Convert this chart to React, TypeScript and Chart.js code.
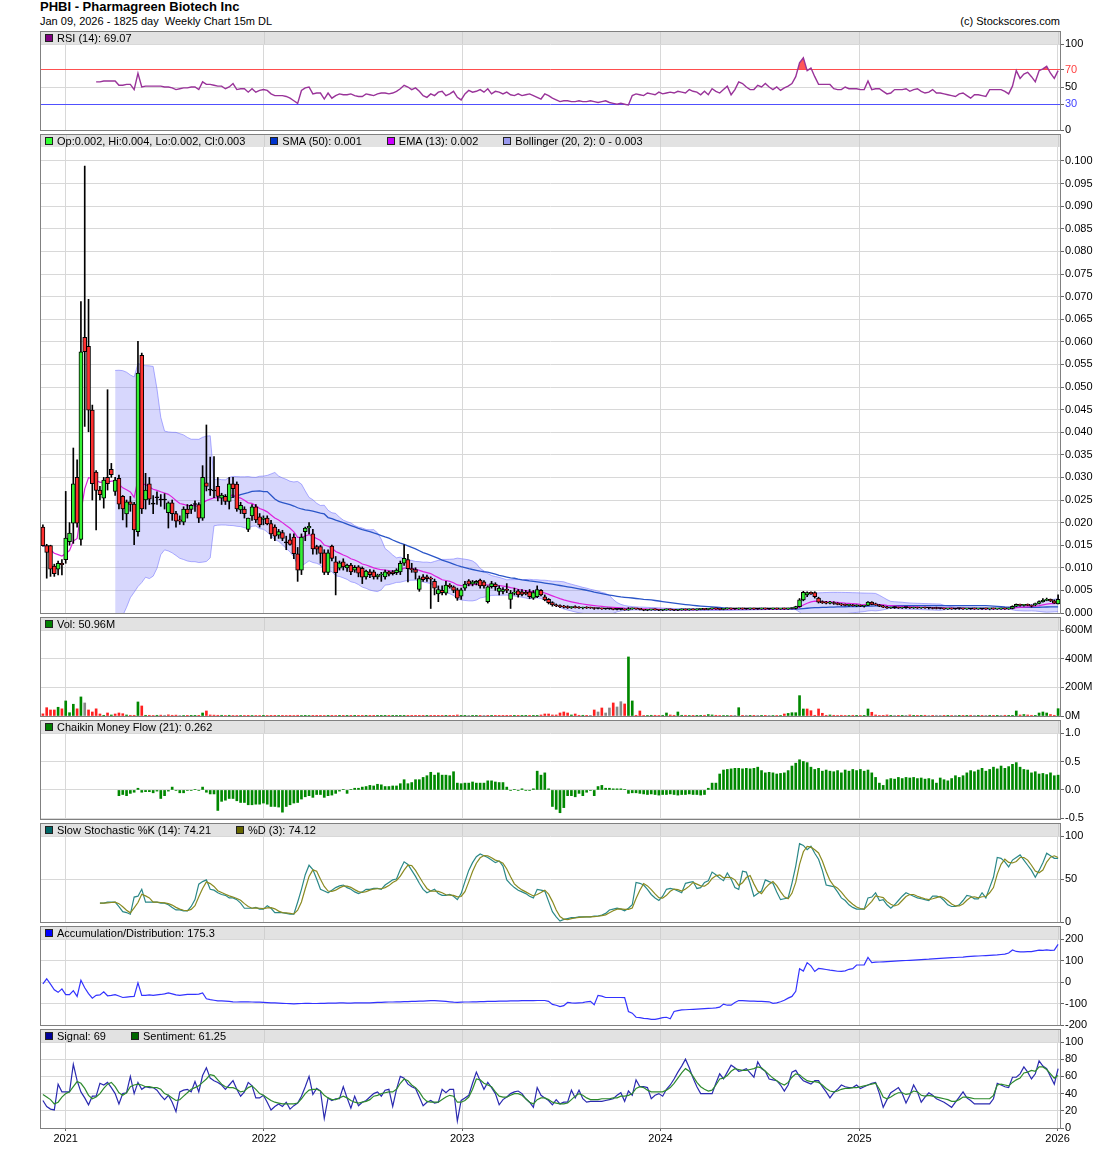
import React, { useEffect, useRef } from "react";
import { Chart, registerables } from "chart.js";

Chart.register(...registerables);

const FONT = "'Liberation Sans', Arial, Helvetica, sans-serif";
Chart.defaults.font.family = FONT;
Chart.defaults.font.size = 11;
Chart.defaults.color = "#000";

// ---------------- data (weekly bars, oldest first) ----------------
const PRICE_UNIT = 0.0001; // price arrays are in 1/10000 dollars

const OPEN = [
  190,149,149,104,97,110,118,158,199,300,
  163,610,590,449,312,272,254,300,318,269,
  298,258,219,246,241,180,570,250,286,241,
  255,250,250,222,244,220,206,201,230,229,
  240,240,210,288,272,270,280,254,258,247,
  286,285,228,230,185,215,235,213,207,210,
  198,190,172,178,155,162,168,131,95,180,
  188,175,147,147,133,90,148,113,99,113,
  100,106,95,102,99,80,91,91,80,84,
  80,91,91,89,91,110,118,98,96,52,
  80,80,76,70,42,50,44,62,58,51,
  37,55,71,64,66,73,69,25,58,64,
  48,48,52,30,44,49,47,46,47,33,
  36,50,36,30,23,18,16,14,13,12,
  13,12,11,12,12,11,10,10,9,9,
  9,8,8,8,7,9,10,9,7,6,
  7,8,7,6,7,8,7,6,7,8,
  7,8,7,8,9,8,9,10,9,8,
  9,10,9,9,10,9,9,10,9,9,
  10,9,9,10,9,10,9,10,10,14,
  29,40,46,45,33,24,23,22,23,21,
  19,18,17,18,16,17,15,17,24,19,
  18,15,13,11,12,12,11,12,12,11,
  12,11,12,11,11,12,10,10,9,10,
  9,10,10,9,9,10,9,9,10,9,
  10,9,9,10,9,10,15,19,17,18,
  17,18,21,25,28,30,27,20,
];
const HIGH = [
  195,152,150,108,115,118,269,200,365,339,
  689,989,694,460,315,280,300,494,331,300,
  305,260,250,258,245,601,575,309,300,260,
  268,262,264,246,250,225,215,235,240,240,
  248,244,326,416,345,346,300,265,262,300,
  300,290,245,235,210,240,240,220,215,215,
  205,195,185,183,170,175,175,145,175,190,
  200,185,150,150,140,140,150,125,115,120,
  108,110,105,105,102,95,96,95,86,90,
  95,93,94,98,115,151,130,110,100,82,
  85,84,80,75,60,60,70,65,60,55,
  55,70,74,72,72,75,72,60,70,67,
  60,56,65,50,55,52,52,50,52,50,
  60,52,40,32,25,20,18,17,16,14,
  16,14,13,14,13,12,11,11,10,10,
  9,9,9,9,12,11,10,9,8,8,
  8,9,8,8,9,9,8,8,9,9,
  9,9,9,10,10,10,11,11,10,10,
  11,11,10,11,11,10,11,11,10,11,
  11,10,11,11,10,11,11,12,15,32,
  48,47,47,47,35,27,26,26,25,23,
  21,20,19,19,18,18,17,25,25,22,
  19,17,15,13,14,13,13,13,13,13,
  13,12,13,12,12,13,11,11,10,11,
  10,11,11,10,10,11,10,10,11,10,
  11,10,11,11,11,16,20,20,19,20,
  18,22,27,32,33,31,29,40,
];
const LOW = [
  148,77,81,81,84,84,110,150,154,190,
  150,413,401,250,184,250,232,272,300,260,
  230,206,190,225,151,170,220,230,240,220,
  240,236,230,188,205,190,196,195,210,220,
  225,200,205,270,260,255,248,240,240,230,
  255,225,220,210,180,205,200,190,195,195,
  165,160,165,160,140,150,120,70,85,160,
  175,130,130,110,85,85,115,40,95,95,
  92,85,90,80,65,75,78,75,75,70,
  75,82,84,85,85,105,69,90,75,48,
  70,70,10,40,25,40,40,55,45,28,
  30,50,60,60,62,55,55,22,55,50,
  40,42,45,10,40,35,38,40,32,30,
  34,38,27,20,15,14,12,11,10,10,
  11,10,9,10,10,8,9,8,8,8,
  7,7,7,6,6,8,8,7,5,5,
  6,6,5,5,6,6,5,5,6,6,
  6,7,6,7,7,7,8,8,7,7,
  8,8,8,8,8,8,8,8,8,8,
  8,8,8,8,8,8,8,9,9,13,
  27,36,41,33,22,21,20,20,19,18,
  16,16,15,15,14,14,13,16,18,17,
  14,12,10,10,10,10,10,10,10,10,
  10,10,10,9,9,9,9,8,8,8,
  8,8,8,8,8,8,8,8,8,7,
  8,8,8,8,8,9,14,15,15,16,
  13,16,20,24,27,25,21,20,
];
const CLOSE = [
  149,134,97,87,110,107,166,177,286,199,
  578,578,449,286,271,262,294,286,306,294,
  241,230,246,240,184,531,230,272,252,241,
  255,250,250,244,220,203,203,230,220,238,
  240,210,300,280,272,270,258,261,247,286,
  275,230,238,220,210,235,206,195,210,197,
  175,170,180,165,155,152,131,95,168,188,
  192,142,141,132,90,133,121,89,111,102,
  106,91,101,88,79,93,85,80,84,85,
  91,86,87,95,110,121,98,96,90,76,
  74,76,75,55,52,45,62,58,50,33,
  51,64,64,69,70,60,60,58,65,58,
  55,52,50,44,46,40,41,42,36,45,
  52,40,29,23,18,16,14,13,12,13,
  12,11,12,11,11,10,10,9,9,9,
  8,8,8,7,9,10,9,8,6,7,
  8,7,6,7,8,7,6,7,8,7,
  8,7,8,9,8,9,10,9,8,9,
  10,9,9,10,9,9,10,9,9,10,
  9,9,10,9,10,9,10,11,14,29,
  46,45,42,36,24,23,22,23,21,19,
  18,17,18,16,17,15,16,24,19,18,
  15,13,11,12,12,11,12,12,11,12,
  11,12,11,11,10,10,10,9,10,9,
  9,10,9,10,9,9,10,9,9,10,
  9,10,10,9,10,15,19,17,18,17,
  15,21,25,28,30,27,22,30,
];
// volume in millions of shares
const VOLUME_M = [
  15,58,42,42,61,50,105,23,82,50,
  133,91,42,28,50,14,5,21,7,14,
  21,16,7,5,5,98,70,5,5,4,
  5,6,5,8,5,6,4,3,2,2,
  1,2,21,35,7,6,5,5,4,5,
  4,3,3,4,2,3,3,3,2,3,
  2,2,3,2,3,2,4,5,3,2,
  3,2,1,2,3,1,2,4,1,1,
  1,2,1,1,1,1,2,1,1,1,
  1,1,1,1,2,2,1,1,1,1,
  1,1,2,1,1,1,1,1,1,7,
  1,1,1,1,1,1,1,1,1,1,
  1,1,1,1,1,1,1,1,1,1,
  1,7,14,14,7,7,21,28,21,7,
  14,5,5,2,1,42,28,56,21,56,
  91,63,100,84,412,105,5,35,3,3,
  5,5,3,5,21,7,5,28,5,5,
  4,2,1,1,5,10,7,5,3,4,
  3,3,2,58,2,5,1,2,1,2,
  1,2,4,4,3,14,18,23,23,142,
  49,49,37,5,49,19,5,7,5,3,
  5,4,3,5,2,3,2,49,26,7,
  4,2,7,2,4,1,1,1,7,1,
  1,1,5,4,2,5,1,1,1,3,
  1,1,1,1,5,1,1,1,1,5,
  1,1,1,5,2,2,35,7,10,7,
  5,2,21,28,21,10,5,51,
];
const RSI_14 = [
  ...Array(14).fill(null),
  56,56,57,57,57,57,52,52,53,53,
  47,66,50,51,51,51,51,51,50,50,
  49,47,48,49,49,50,50,47,56,53,
  53,52,51,51,48,50,54,47,48,48,
  44,48,44,46,47,46,42,40,40,40,
  39,37,34,31,46,49,50,42,43,43,
  36,43,37,40,42,41,41,42,40,39,
  39,42,41,40,42,43,43,42,43,45,
  48,52,50,47,49,45,40,38,42,40,
  44,45,40,42,45,38,35,42,46,44,
  45,47,44,48,42,45,44,42,44,41,
  40,42,40,41,42,40,38,36,42,40,
  37,35,33,34,34,33,33,34,33,33,
  34,33,32,33,34,32,31,30,31,30,
  29,40,42,41,40,43,42,41,44,42,
  43,44,43,45,44,43,47,45,44,41,
  45,41,48,45,43,47,51,41,47,56,
  54,50,47,47,52,50,54,50,47,50,
  46,49,51,54,62,78,84,69,72,62,
  53,53,53,53,48,47,47,50,48,48,
  48,47,47,57,47,48,48,45,42,43,
  47,47,47,48,45,47,48,45,43,44,
  47,43,43,42,41,40,39,42,43,40,
  37,41,41,40,39,47,47,47,47,45,
  42,51,69,60,65,67,62,56,69,71,
  74,66,60,69,
];
const CMF_21 = [
  ...Array(20).fill(null),
  -0.10,-0.08,-0.10,-0.06,-0.04,0.03,-0.04,-0.03,-0.03,-0.05,
  -0.02,-0.15,-0.10,-0.02,0.05,-0.01,-0.05,-0.05,-0.01,-0.01,
  0.01,-0.01,0.05,-0.04,-0.07,-0.07,-0.36,-0.20,-0.18,-0.15,
  -0.15,-0.19,-0.22,-0.22,-0.26,-0.26,-0.25,-0.25,-0.23,-0.25,
  -0.29,-0.29,-0.30,-0.39,-0.29,-0.26,-0.23,-0.22,-0.16,-0.12,
  -0.10,-0.13,-0.08,-0.08,-0.13,-0.10,-0.09,-0.06,-0.02,0.01,
  -0.06,0.01,0.03,0.03,0.05,0.06,0.08,0.07,0.10,0.09,
  0.06,0.06,0.07,0.07,0.11,0.18,0.11,0.13,0.18,0.18,
  0.22,0.25,0.31,0.26,0.30,0.26,0.26,0.25,0.32,0.12,
  0.11,0.12,0.12,0.14,0.12,0.12,0.12,0.16,0.16,0.14,
  0.13,0.13,0.05,-0.01,0.01,-0.01,0.02,-0.01,-0.01,0.02,
  0.33,0.26,0.30,0.02,-0.29,-0.34,-0.40,-0.31,-0.10,-0.10,
  -0.12,-0.06,-0.10,-0.04,-0.01,-0.10,0.06,0.08,0.03,0.03,
  0.02,0.02,0.02,0.01,-0.06,-0.05,-0.05,-0.06,-0.07,-0.08,
  -0.07,-0.08,-0.09,-0.08,-0.08,-0.07,-0.08,-0.09,-0.08,-0.08,
  -0.07,-0.08,-0.08,-0.09,-0.08,0.03,0.12,0.12,0.28,0.35,
  0.36,0.37,0.38,0.38,0.37,0.38,0.37,0.38,0.40,0.34,
  0.30,0.31,0.30,0.28,0.29,0.30,0.34,0.42,0.47,0.53,
  0.50,0.48,0.40,0.36,0.38,0.33,0.35,0.33,0.32,0.34,
  0.30,0.35,0.33,0.36,0.34,0.36,0.33,0.35,0.30,0.22,
  0.12,0.08,0.18,0.20,0.19,0.22,0.20,0.22,0.21,0.22,
  0.20,0.21,0.19,0.20,0.18,0.12,0.21,0.18,0.16,0.20,
  0.25,0.22,0.25,0.30,0.34,0.32,0.35,0.38,0.33,0.36,
  0.40,0.37,0.42,0.38,0.41,0.45,0.48,0.40,0.36,0.35,
  0.30,0.32,0.28,0.29,0.27,0.30,0.25,0.26,
];
const STOCH_K = [
  ...Array(15).fill(null),
  22,22,23,23,23,18,12,11,9,29,
  30,38,23,23,23,23,22,22,20,17,
  14,14,13,13,18,26,44,47,49,38,
  37,34,32,31,28,28,26,22,16,16,
  16,17,15,15,19,16,11,11,11,10,
  9,9,23,38,55,66,61,50,38,36,
  34,37,40,42,43,40,38,35,33,35,
  38,38,39,39,38,43,46,49,50,61,
  70,67,60,53,45,38,34,36,38,33,
  31,31,32,30,26,33,47,60,69,76,
  79,77,75,72,69,71,65,49,44,40,
  37,35,33,30,28,38,37,36,24,12,
  6,1,3,4,5,5,6,6,6,6,
  7,7,8,10,14,15,16,15,13,16,
  20,46,45,43,38,32,28,25,30,38,
  39,38,36,34,45,46,47,39,40,46,
  48,58,55,51,48,57,50,40,38,59,
  58,45,30,33,36,49,47,45,35,26,
  27,28,45,65,91,89,84,88,80,73,
  60,43,42,41,35,28,25,20,17,15,
  15,15,28,29,34,25,26,20,16,20,
  25,30,34,32,30,28,27,26,25,30,
  30,29,25,20,18,18,20,25,31,30,
  27,27,34,28,40,52,75,74,70,64,
  72,75,78,72,66,60,52,60,69,80,
  77,74,74,
];
const ACC_DIST = [
  -9,15,-10,-36,-48,-32,-59,-59,-40,-67,
  8,-27,-54,-75,-62,-60,-46,-64,-62,-59,
  -65,-72,-70,-68,-67,-4,-62,-62,-60,-62,
  -60,-58,-55,-51,-55,-60,-62,-60,-58,-57,
  -58,-56,-51,-78,-82,-85,-88,-88,-89,-90,
  -92,-93,-92,-92,-92,-93,-94,-94,-95,-96,
  -97,-97,-98,-99,-100,-101,-102,-101,-100,-99,
  -99,-100,-100,-99,-99,-98,-98,-98,-97,-97,
  -98,-98,-97,-97,-97,-97,-97,-96,-95,-95,
  -94,-93,-93,-92,-92,-91,-91,-90,-90,-89,
  -89,-88,-87,-87,-88,-89,-90,-92,-94,-95,
  -94,-93,-93,-92,-92,-91,-91,-90,-90,-90,
  -89,-89,-89,-88,-88,-88,-87,-87,-87,-87,
  -86,-86,-86,-90,-104,-108,-114,-110,-95,-97,
  -98,-97,-96,-92,-90,-106,-62,-66,-72,-72,
  -72,-72,-72,-73,-137,-145,-164,-166,-169,-170,
  -174,-174,-170,-166,-164,-171,-137,-133,-130,-129,
  -128,-127,-126,-125,-124,-123,-122,-120,-117,-103,
  -108,-108,-95,-86,-87,-88,-89,-89,-90,-90,
  -91,-92,-99,-97,-92,-85,-75,-67,-43,62,
  51,90,75,49,63,61,58,55,53,50,
  49,52,59,62,79,79,80,114,90,92,
  93,94,95,96,97,98,99,100,101,102,
  103,104,105,106,108,109,110,111,112,113,
  114,115,116,118,119,120,121,122,123,124,
  125,126,128,130,135,149,142,140,140,141,
  141,145,148,147,149,147,148,175,
];
const SIGNAL = [
  32,25,22,21,51,42,42,42,74,55,
  42,35,27,37,37,52,50,53,47,40,
  28,40,41,60,40,53,45,48,47,47,
  44,38,33,38,30,19,42,44,45,42,
  54,42,61,70,58,55,53,50,45,50,
  55,45,37,42,53,49,35,35,38,30,
  21,25,28,25,30,22,26,29,37,48,
  60,39,46,43,11,35,32,34,34,48,
  35,23,37,26,30,32,36,40,42,37,
  44,45,25,45,60,58,51,48,46,36,
  26,30,32,29,30,45,41,45,45,8,
  32,35,38,52,65,55,45,53,47,40,
  27,33,36,40,42,43,40,34,30,24,
  47,38,35,32,27,33,28,30,30,44,
  35,44,34,30,31,31,31,31,32,33,
  34,38,41,31,43,38,56,48,48,47,
  34,38,40,37,45,50,57,65,72,80,
  70,58,48,40,40,40,40,52,63,57,
  65,73,70,66,67,69,64,59,77,69,
  66,57,56,55,50,43,50,65,67,60,
  55,53,51,55,55,48,42,35,41,45,
  50,48,47,47,50,46,48,50,52,53,
  40,24,33,41,44,47,40,29,38,50,
  42,30,36,41,38,34,32,30,27,24,
  30,36,42,35,32,28,28,28,28,28,
  34,52,50,48,47,59,59,63,71,65,
  57,63,78,72,69,60,51,69,
];
const SENTIMENT = [
  39,36,33,28,30,36,40,42,48,54,
  52,46,38,34,36,40,46,51,53,48,
  41,38,41,48,50,51,50,48,48,47,
  47,45,40,38,35,32,33,37,41,45,
  47,49,53,57,62,61,56,51,48,47,
  47,45,42,43,47,49,45,40,38,35,
  32,30,29,28,28,28,28,29,34,40,
  44,45,45,43,38,35,33,33,35,37,
  35,32,30,29,30,31,33,37,38,40,
  41,42,42,45,52,57,55,50,47,42,
  35,31,30,30,30,33,36,38,37,30,
  30,32,36,45,57,56,52,50,48,42,
  37,36,36,38,40,40,38,34,30,28,
  33,35,35,33,30,29,28,28,29,33,
  37,40,38,35,33,33,33,34,34,34,
  35,35,37,37,38,40,46,48,47,44,
  42,42,42,42,44,47,52,58,64,69,
  66,60,53,48,45,43,44,50,57,58,
  61,66,69,68,67,67,68,69,71,70,
  66,62,58,55,52,50,53,59,63,62,
  58,55,54,54,53,50,46,43,42,43,
  45,46,46,47,47,48,49,50,51,52,
  45,36,34,36,39,41,41,39,40,43,
  42,38,37,38,37,36,35,34,33,31,
  31,33,36,36,35,34,34,34,34,34,
  38,50,51,50,49,53,56,58,64,65,
  67,66,71,71,68,63,58,61,
];

const YEARS = [2021, 2022, 2023, 2024, 2025, 2026];
// calendar date that the last bar's slot on the x axis stands for
const AXIS_END_UTC = Date.UTC(2026, 0, 2);

// ---------------- derived series ----------------
const N = CLOSE.length;
const WEEK_MS = 7 * 86400000;
const YEAR_POS = YEARS.map((y) => N - 1 - (AXIS_END_UTC - Date.UTC(y, 0, 1)) / WEEK_MS);

const closeP = CLOSE.map((v) => v * PRICE_UNIT);
function smaOf(arr: number[], n: number) {
  return arr.map((_, i) => {
    if (i < n - 1) return null;
    let s = 0;
    for (let k = i - n + 1; k <= i; k++) s += arr[k];
    return s / n;
  });
}
function emaOf(arr: number[], n: number) {
  const k = 2 / (n + 1);
  let e = arr[0];
  return arr.map((v, i) => (i === 0 ? e : (e = v * k + e * (1 - k))));
}
const SMA50 = smaOf(closeP, 50);
const EMA13 = emaOf(closeP, 13);
const BB_MID = smaOf(closeP, 20);
const BB_SD = closeP.map((_, i) => {
  if (i < 19) return null;
  const m = BB_MID[i] as number;
  let s = 0;
  for (let k = i - 19; k <= i; k++) s += (closeP[k] - m) ** 2;
  return Math.sqrt(s / 20);
});
const BB_UP = BB_MID.map((m, i) => (m === null ? null : m + 2 * (BB_SD[i] as number)));
const BB_LO = BB_MID.map((m, i) => (m === null ? null : m - 2 * (BB_SD[i] as number)));
const STOCH_D = STOCH_K.map((_, i) => {
  const w = STOCH_K.slice(Math.max(0, i - 2), i + 1).filter((v) => v !== null) as number[];
  return STOCH_K[i] === null || !w.length ? null : w.reduce((a, b) => a + b, 0) / w.length;
});

const pts = (arr: (number | null)[]) => arr.map((y, x) => ({ x, y }));

const GREEN_BODY = "#33f033";
const RED_BODY = "#ff3030";
const VOL_COLORS = CLOSE.map((c, i) => {
  const prev = i === 0 ? OPEN[0] : CLOSE[i - 1];
  return c > prev ? "#008800" : c < prev ? "#ff2020" : "#888888";
});

// ---------------- chart helpers ----------------
const HEADER = 13;
const GRID = "#d8d8d8";

const framePlugin = {
  id: "panelFrame",
  beforeDraw(chart: any) {
    const { ctx, chartArea } = chart;
    const { left, right, top } = chartArea;
    ctx.save();
    ctx.fillStyle = "#e2e2e2";
    ctx.fillRect(left, 0, right - left, top);
    const xs = chart.scales.x;
    ctx.strokeStyle = "#d0d0d0";
    ctx.lineWidth = 1;
    for (const t of xs.ticks) {
      const px = Math.round(xs.getPixelForValue(t.value)) + 0.5;
      ctx.beginPath();
      ctx.moveTo(px, 0);
      ctx.lineTo(px, top);
      ctx.stroke();
    }
    ctx.restore();
  },
  afterDraw(chart: any) {
    const { ctx, chartArea } = chart;
    const { left, right, bottom } = chartArea;
    ctx.save();
    ctx.strokeStyle = "#808080";
    ctx.lineWidth = 1;
    ctx.strokeRect(left - 0.5, 0.5, right - left + 1, bottom);
    ctx.restore();
  },
};

type YOpts = {
  min: number;
  max: number;
  ticks: number[];
  fmt: (v: number) => string;
  showX?: boolean;
  tickColor?: (v: number) => string;
  gridColor?: (v: number) => string;
};

function makeOptions(o: YOpts): any {
  return {
    responsive: false,
    animation: false,
    events: [],
    layout: { padding: { top: HEADER, left: 1, right: 0, bottom: o.showX ? 0 : 9 } },
    plugins: { legend: { display: false }, tooltip: { enabled: false } },
    datasets: { bar: { grouped: false } },
    scales: {
      x: {
        type: "linear",
        min: -0.5,
        max: N - 0.5,
        offset: false,
        afterBuildTicks: (s: any) => {
          s.ticks = YEAR_POS.map((v) => ({ value: v }));
        },
        afterFit: (s: any) => {
          s.height = o.showX ? 25 : 0;
        },
        grid: { color: GRID, offset: false, drawTicks: !!o.showX, tickLength: 3, tickColor: "#666" },
        border: { display: false },
        ticks: {
          display: !!o.showX,
          autoSkip: false,
          maxRotation: 0,
          padding: 1,
          color: "#000",
          font: { size: 11 },
          callback: (_v: any, i: number) => String(YEARS[i]),
        },
      },
      y: {
        type: "linear",
        position: "right",
        min: o.min,
        max: o.max,
        afterBuildTicks: (s: any) => {
          s.ticks = o.ticks.map((v) => ({ value: v }));
        },
        afterFit: (s: any) => {
          s.width = 40;
        },
        grid: {
          color: (c: any) => (o.gridColor ? o.gridColor(c.tick.value) : GRID),
          drawTicks: true,
          tickLength: 4,
          tickColor: "#666",
        },
        border: { display: false },
        ticks: {
          autoSkip: false,
          padding: 1,
          font: { size: 11 },
          color: (c: any) => (o.tickColor ? o.tickColor(c.tick.value) : "#000"),
          callback: (v: any) => o.fmt(Number(v)),
        },
      },
    },
  };
}

const lineDs = (data: (number | null)[], color: string, width = 1.2, extra: any = {}) => ({
  type: "line",
  data: pts(data),
  borderColor: color,
  borderWidth: width,
  pointRadius: 0,
  tension: 0,
  fill: false,
  ...extra,
});

const range = (a: number, b: number, step: number) => {
  const out: number[] = [];
  for (let v = a; v <= b + 1e-9; v += step) out.push(+v.toFixed(4));
  return out;
};

// ---------------- panel configs ----------------
const rsiConfig = () => ({
  type: "line",
  data: {
    datasets: [
      lineDs(RSI_14, "#993399", 1.4, {
        fill: { target: { value: 70 }, above: "rgba(255,70,70,0.9)", below: "rgba(0,0,0,0)" },
      }),
    ],
  },
  options: makeOptions({
    min: 0,
    max: 100,
    ticks: [0, 30, 50, 70, 100],
    fmt: (v) => String(v),
    tickColor: (v) => (v === 70 ? "#ff4040" : v === 30 ? "#4040ff" : "#000"),
    gridColor: (v) => (v === 70 ? "#ff5050" : v === 30 ? "#5050ff" : GRID),
  }),
  plugins: [framePlugin],
});

const priceConfig = () => {
  const wicks = LOW.map((l, i) => ({ x: i, y: [l * PRICE_UNIT, HIGH[i] * PRICE_UNIT] }));
  const bodies = OPEN.map((o, i) => ({
    x: i,
    y: [Math.min(o, CLOSE[i]) * PRICE_UNIT, Math.max(o, CLOSE[i]) * PRICE_UNIT],
  }));
  const bodyColors = OPEN.map((o, i) => (CLOSE[i] > o ? GREEN_BODY : CLOSE[i] < o ? RED_BODY : "#000"));
  return {
    type: "bar",
    data: {
      datasets: [
        lineDs(BB_UP, "rgba(110,110,255,0.55)", 1, { fill: "+1", backgroundColor: "rgba(130,130,250,0.32)", order: 6 }),
        lineDs(BB_LO, "rgba(110,110,255,0.55)", 1, { order: 6 }),
        lineDs(SMA50, "#2a55c8", 1.3, { order: 5 }),
        lineDs(EMA13, "#dd22dd", 1.2, { order: 4 }),
        { type: "bar", data: wicks, backgroundColor: "#000", barThickness: 1, grouped: false, order: 2 },
        {
          type: "bar",
          data: bodies,
          backgroundColor: bodyColors,
          borderColor: "#000",
          borderWidth: 1,
          borderSkipped: false,
          barThickness: 4,
          minBarLength: 1,
          grouped: false,
          order: 1,
        },
      ],
    },
    options: makeOptions({
      min: 0,
      max: 466 / 4520,
      ticks: range(0, 0.1, 0.005),
      fmt: (v) => v.toFixed(3),
    }),
    plugins: [framePlugin],
  };
};

const volConfig = () => ({
  type: "bar",
  data: {
    datasets: [
      { data: pts(VOLUME_M.map((v) => v * 1e6)), backgroundColor: VOL_COLORS, barThickness: 2 },
    ],
  },
  options: makeOptions({
    min: 0,
    max: 600e6,
    ticks: [0, 200e6, 400e6, 600e6],
    fmt: (v) => Math.round(v / 1e6) + "M",
  }),
  plugins: [framePlugin],
});

const cmfConfig = () => ({
  type: "bar",
  data: { datasets: [{ data: pts(CMF_21), backgroundColor: "#008800", barThickness: 2 }] },
  options: makeOptions({
    min: -0.51,
    max: 1.0,
    ticks: [-0.5, 0, 0.5, 1.0],
    fmt: (v) => v.toFixed(1),
  }),
  plugins: [framePlugin],
});

const stochConfig = () => ({
  type: "line",
  data: {
    datasets: [lineDs(STOCH_D, "#8a8a20", 1.2), lineDs(STOCH_K, "#2a8888", 1.2)],
  },
  options: makeOptions({ min: 0, max: 100, ticks: [0, 50, 100], fmt: (v) => String(v) }),
  plugins: [framePlugin],
});

const adConfig = () => ({
  type: "line",
  data: { datasets: [lineDs(ACC_DIST, "#3333ff", 1.2)] },
  options: makeOptions({ min: -200, max: 200, ticks: [-200, -100, 0, 100, 200], fmt: (v) => String(v) }),
  plugins: [framePlugin],
});

const signalConfig = () => ({
  type: "line",
  data: { datasets: [lineDs(SENTIMENT, "#2e8a2e", 1.2), lineDs(SIGNAL, "#2a2ab0", 1.2)] },
  options: makeOptions({
    min: 0,
    max: 100,
    ticks: [0, 20, 40, 60, 80, 100],
    fmt: (v) => String(v),
    showX: true,
  }),
  plugins: [framePlugin],
});

type LegendItem = { color: string; text: string };

function Panel(props: { top: number; plot: number; showX?: boolean; config: () => any; legend: LegendItem[] }) {
  const ref = useRef<HTMLCanvasElement | null>(null);
  const height = props.showX ? HEADER + props.plot + 25 : HEADER + props.plot + 9;
  useEffect(() => {
    const chart = new Chart(ref.current as HTMLCanvasElement, props.config());
    return () => chart.destroy();
  }, []);
  return (
    <>
      <canvas
        ref={ref}
        width={1060}
        height={height}
        style={{ position: "absolute", left: 40, top: props.top, width: 1060, height }}
      />
      <div
        style={{
          position: "absolute",
          left: 45,
          top: props.top + 1,
          height: 12,
          display: "flex",
          alignItems: "center",
          fontFamily: FONT,
          fontSize: 11,
          whiteSpace: "pre",
          color: "#000",
        }}
      >
        {props.legend.map((it, k) => (
          <React.Fragment key={k}>
            <span
              style={{
                display: "inline-block",
                width: 8,
                height: 8,
                boxSizing: "border-box",
                border: "1px solid #222",
                background: it.color,
                marginRight: 4,
              }}
            />
            <span style={{ marginRight: 25 }}>{it.text}</span>
          </React.Fragment>
        ))}
      </div>
    </>
  );
}

export default function App() {
  return (
    <div
      style={{
        position: "absolute",
        left: 0,
        top: 0,
        width: 1100,
        height: 1159,
        background: "#fff",
        fontFamily: FONT,
        overflow: "hidden",
      }}
    >
      <div style={{ position: "absolute", left: 40, top: -1, fontSize: 13, fontWeight: "bold", lineHeight: "15px" }}>
        PHBI - Pharmagreen Biotech Inc
      </div>
      <div style={{ position: "absolute", left: 40, top: 15, fontSize: 11, lineHeight: "13px", whiteSpace: "pre" }}>
        {"Jan 09, 2026 - 1825 day  Weekly Chart 15m DL"}
      </div>
      <div
        style={{ position: "absolute", left: 860, width: 200, top: 15, fontSize: 11, lineHeight: "13px", textAlign: "right" }}
      >
        (c) Stockscores.com
      </div>

      <Panel top={31} plot={86} config={rsiConfig} legend={[{ color: "#800080", text: "RSI (14): 69.07" }]} />
      <Panel
        top={134}
        plot={466}
        config={priceConfig}
        legend={[
          { color: "#33ff33", text: "Op:0.002, Hi:0.004, Lo:0.002, Cl:0.003" },
          { color: "#0033cc", text: "SMA (50): 0.001" },
          { color: "#cc00ff", text: "EMA (13): 0.002" },
          { color: "#9999ee", text: "Bollinger (20, 2): 0 - 0.003" },
        ]}
      />
      <Panel top={617} plot={86} config={volConfig} legend={[{ color: "#008000", text: "Vol: 50.96M" }]} />
      <Panel
        top={720}
        plot={86}
        config={cmfConfig}
        legend={[{ color: "#008000", text: "Chaikin Money Flow (21): 0.262" }]}
      />
      <Panel
        top={823}
        plot={86}
        config={stochConfig}
        legend={[
          { color: "#006666", text: "Slow Stochastic %K (14): 74.21" },
          { color: "#666600", text: "%D (3): 74.12" },
        ]}
      />
      <Panel
        top={926}
        plot={86}
        config={adConfig}
        legend={[{ color: "#0000ff", text: "Accumulation/Distribution: 175.3" }]}
      />
      <Panel
        top={1029}
        plot={86}
        showX
        config={signalConfig}
        legend={[
          { color: "#000099", text: "Signal: 69" },
          { color: "#006600", text: "Sentiment: 61.25" },
        ]}
      />
    </div>
  );
}
